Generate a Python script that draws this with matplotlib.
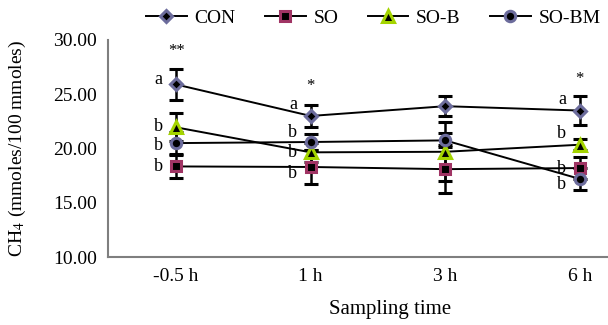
import numpy as np
import matplotlib
matplotlib.use("Agg")
import matplotlib.pyplot as plt

plt.rcParams['font.family'] = ['Liberation Serif', 'DejaVu Serif']
plt.rcParams['mathtext.fontset'] = 'stix'

times = ["-0.5 h", "1 h", "3 h", "6 h"]

con = [25.9, 23.0, 23.9, 23.5]
con_err = [1.4, 1.0, 0.9, 1.35]
so = [18.35, 18.3, 18.1, 18.2]
so_err = [1.05, 1.6, 2.2, 1.0]
sob = [21.95, 19.65, 19.7, 20.35]
sob_err = [1.3, 0.9, 2.7, 0.5]
sobm = [20.5, 20.6, 20.75, 17.2]
sobm_err = [1.05, 0.7, 0.65, 1.0]

# significance letters: (time index, y, letter) and stars per time point
letters = [
    (0, 26.4, "a"), (0, 22.0, "b"), (0, 20.3, "b"), (0, 18.3, "b"),
    (1, 24.1, "a"), (1, 21.5, "b"), (1, 19.65, "b"), (1, 17.7, "b"),
    (3, 24.5, "a"), (3, 21.35, "b"), (3, 18.2, "b"), (3, 16.7, "b"),
]
stars = [(0, 29.0, "**"), (1, 25.8, "*"), (3, 26.45, "*")]

x = np.arange(len(times))

fig = plt.figure(figsize=(6.08, 3.25), dpi=100)
ax = fig.add_axes([0.178, 0.209, 0.822, 0.668])

series = [
    ("CON", con, con_err, 'D', '#6C6C9C', 6.5),
    ("SO", so, so_err, 's', '#A03464', 7),
    ("SO-B", sob, sob_err, '^', '#A4D400', 8),
    ("SO-BM", sobm, sobm_err, 'o', '#6C6C9C', 7.5),
]
for name, vals, err, mk, ec, ms in series:
    ax.errorbar(x, vals, yerr=err, color='black', lw=1.4, elinewidth=1.8,
                capsize=5, capthick=1.8, marker=mk, ms=ms, mfc='black',
                mec=ec, mew=2.2, label=name, zorder=3)

for i, yv, lab in letters:
    ax.text(x[i] - 0.1, yv, lab, ha='right', va='center', fontsize=13)
for i, yv, s in stars:
    ax.text(x[i], yv, s, ha='center', va='center', fontsize=12)

ax.set_xlim(-0.505, 3.21)
ax.set_ylim(10, 30)
ax.set_yticks([10, 15, 20, 25, 30])
ax.set_yticklabels(["%.2f" % v for v in [10, 15, 20, 25, 30]], fontsize=14)
ax.set_xticks(x)
ax.set_xticklabels(times, fontsize=14)
ax.tick_params(axis='x', length=0, pad=8)
ax.tick_params(axis='y', length=0, pad=8)
for sp in ['top', 'right']:
    ax.spines[sp].set_visible(False)
for sp in ['left', 'bottom']:
    ax.spines[sp].set_color('#7f7f7f')
    ax.spines[sp].set_linewidth(1.5)

ax.set_ylabel("CH$_4$ (mmoles/100 mmoles)", fontsize=14)
ax.yaxis.set_label_coords(-0.16, 0.5)
ax.set_xlabel("Sampling time", fontsize=15)
ax.xaxis.set_label_coords((390 - 108) / 500, -0.2)

handles, labels = ax.get_legend_handles_labels()
handles = [h[0] for h in handles]
fig.legend(handles, labels, loc='center', bbox_to_anchor=(0.614, 0.945), ncol=4,
           frameon=False, fontsize=14, handlelength=2.1, columnspacing=1.5,
           handletextpad=0.4, borderaxespad=0, borderpad=0)

fig.savefig("out.png", dpi=100)
